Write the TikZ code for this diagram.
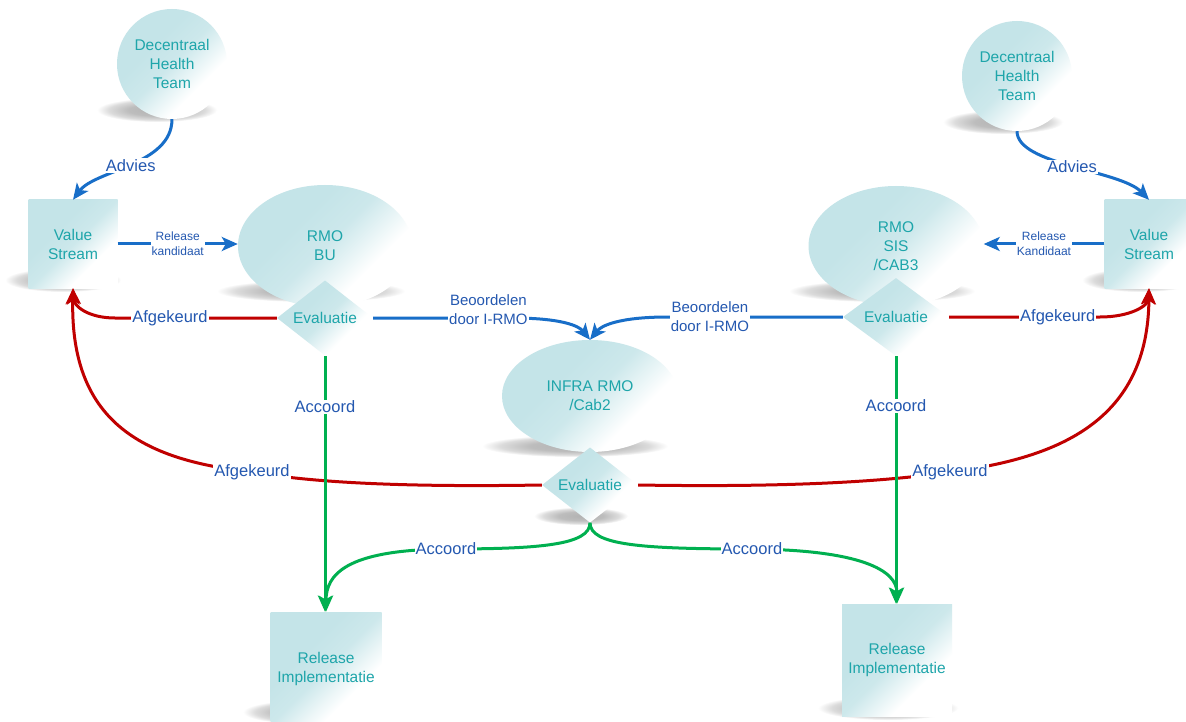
\documentclass[tikz,border=0pt]{standalone}
\usepackage{fontspec}
\setmainfont{Liberation Sans}
\usetikzlibrary{shapes.geometric,arrows.meta}
\definecolor{fillc}{HTML}{C4E4E8}
\definecolor{txtc}{HTML}{1EA5AA}
\definecolor{lblc}{HTML}{2458B0}
\definecolor{bluec}{HTML}{186EC8}
\definecolor{redc}{HTML}{C00000}
\definecolor{greenc}{HTML}{00B050}
\pgfdeclareradialshading{shadowshade}{\pgfpoint{0bp}{0bp}}{color(0bp)=(black!30); color(12bp)=(black!26); color(20bp)=(black!14); color(25bp)=(white); color(50bp)=(white)}
\pgfdeclareverticalshading{tealshade}{100bp}{color(0bp)=(white); color(34bp)=(white); color(50bp)=(fillc!85!white); color(62bp)=(fillc); color(100bp)=(fillc)}
\begin{document}
\begin{tikzpicture}[x=1pt,y=-1pt,
  shapebox/.style={shading=tealshade, shading angle=45, text=txtc, align=center, inner sep=0pt, font=\fontsize{15.5}{19}\selectfont},
  circ/.style={shapebox, circle, minimum size=110pt},
  sq/.style={shapebox, rectangle, minimum width=89pt, minimum height=88pt},
  ell/.style={shapebox, ellipse},
  dia/.style={shapebox, diamond},
  shadowc/.style={shading=shadowshade},
  lbl/.style={fill=white, text=lblc, inner sep=1pt, align=center, font=\fontsize{16.5}{19}\selectfont},
  mlbl/.style={lbl, font=\fontsize{15}{19}\selectfont},
  slbl/.style={lbl, font=\fontsize{12}{15}\selectfont},
  conn/.style={line width=3pt, -{Stealth[length=16pt,width=14pt,inset=4pt]}},
  bconn/.style={conn, draw=bluec, color=bluec},
  rconn/.style={conn, draw=redc, color=redc},
  gconn/.style={conn, draw=greenc, color=greenc}
]
\fill[white] (0,0) rectangle (1186,722);
\useasboundingbox (0,0) rectangle (1186,722);

% shadows
\shade[shadowc] (157,110) ellipse [x radius=60, y radius=12];
\shade[shadowc] (1003,122) ellipse [x radius=60, y radius=12];
\shade[shadowc] (63,280) ellipse [x radius=58, y radius=12];
\shade[shadowc] (1140,280) ellipse [x radius=58, y radius=12];
\shade[shadowc] (311,291) ellipse [x radius=94, y radius=11];
\shade[shadowc] (882,291) ellipse [x radius=93, y radius=11];
\shade[shadowc] (575,446) ellipse [x radius=93, y radius=11];
\shade[shadowc] (581,516) ellipse [x radius=47, y radius=9];
\shade[shadowc] (305,712) ellipse [x radius=62, y radius=12];
\shade[shadowc] (888,708) ellipse [x radius=70, y radius=12];

% nodes
\node[circ] (dhtL) at (172,64) {Decentraal\\Health\\Team};
\node[circ] (dhtR) at (1017,76) {Decentraal\\Health\\Team};
\node[sq] (vsL) at (73,244) {Value\\Stream};
\node[sq] (vsR) at (1149,244) {Value\\Stream};
\node[ell, minimum width=174pt, minimum height=122pt] (bu) at (325,246) {RMO\\BU};
\node[ell, minimum width=175pt, minimum height=120pt] (sis) at (896,246) {RMO\\SIS\\/CAB3};
\node[ell, minimum width=176pt, minimum height=112pt] (inf) at (590,396) {INFRA RMO\\/Cab2};
\node[dia, minimum width=96pt, minimum height=74pt] (evBU) at (325,318) {Evaluatie};
\node[dia, minimum width=106pt, minimum height=78pt] (evSIS) at (896,317) {Evaluatie};
\node[dia, minimum width=96pt, minimum height=72pt] (evINF) at (590,485) {Evaluatie};
\node[sq, minimum width=111pt, minimum height=114pt] (relL) at (326,669) {Release\\Implementatie};
\node[sq, minimum width=110pt, minimum height=112pt] (relR) at (897,660) {Release\\Implementatie};

% blue connectors
\draw[bconn] (dhtL.south) .. controls (172,165) and (95,170) .. node[lbl,pos=0.5]{Advies} (vsL.north);
\draw[bconn] (dhtR.south) .. controls (1017,165) and (1120,170) .. node[lbl,pos=0.5]{Advies} (vsR.north);
\draw[bconn] (vsL.east) -- node[slbl]{Release\\kandidaat} (vsL.east -| bu.west);
\draw[bconn] (vsR.west) -- node[slbl]{Release\\Kandidaat} (vsR.west -| sis.east);
\draw[bconn] (evBU.east) -- node[mlbl,pos=0.83,yshift=8pt]{Beoordelen\\door I-RMO} (512,318) .. controls (562,318) and (579,326) .. (inf.north);
\draw[bconn] (evSIS.west) -- node[mlbl,pos=0.76]{Beoordelen\\door I-RMO} (668,317) .. controls (618,317) and (601,326) .. (inf.north);

% red connectors
\draw[rconn] (evBU.west) -- node[lbl,pos=0.66]{Afgekeurd} (115,318) .. controls (88,318) and (74,306) .. (vsL.south);
\draw[rconn] (evSIS.east) -- node[lbl,pos=0.72]{Afgekeurd} (1100,317) .. controls (1130,317) and (1148,306) .. (vsR.south);
\draw[rconn] (evINF.west) .. controls (420,487) and (320,484) .. (252,472) node[lbl]{Afgekeurd} .. controls (140,460) and (70,420) .. (vsL.south);
\draw[rconn] (evINF.east) .. controls (760,487) and (870,484) .. (950,472) node[lbl]{Afgekeurd} .. controls (1060,458) and (1148,420) .. (vsR.south);

% green connectors
\draw[gconn] (evBU.south) -- node[lbl,pos=0.2]{Accoord} (evBU.south |- relL.north);
\draw[gconn] (evSIS.south) -- node[lbl,pos=0.2]{Accoord} (evSIS.south |- relR.north);
\draw[gconn] (evINF.south) .. controls (590,545) and (540,549) .. (446,549) node[lbl]{Accoord} .. controls (345,550) and (326,575) .. (relL.north);
\draw[gconn] (evINF.south) .. controls (590,545) and (640,549) .. (752,549) node[lbl]{Accoord} .. controls (860,550) and (897,570) .. (relR.north);
\end{tikzpicture}
\end{document}
